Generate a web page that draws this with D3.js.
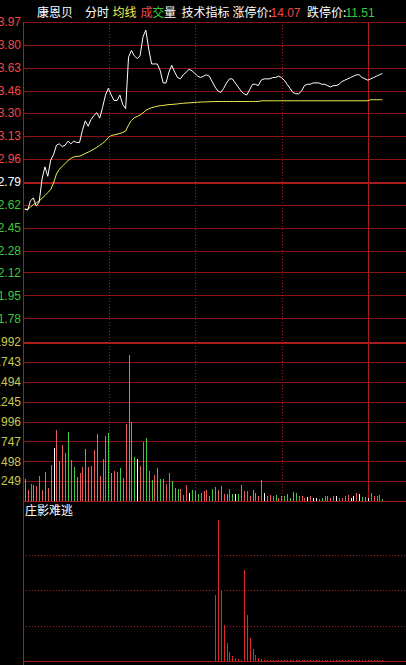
<!DOCTYPE html>
<html><head><meta charset="utf-8">
<script src="https://cdn.jsdelivr.net/npm/d3@7/dist/d3.min.js"></script>
<style>html,body{margin:0;padding:0;background:#000;overflow:hidden}svg{display:block}</style>
</head><body><svg id="c" width="406" height="665"></svg>
<script>
// ---------- DATA ----------
const stockName = "康恩贝";
const limitUp = "14.07";
const limitDown = "11.51";
const prevClose = 12.79;
const priceTicks = [13.97, 13.80, 13.63, 13.46, 13.30, 13.13, 12.96, 12.79, 12.62, 12.45, 12.28, 12.12, 11.95, 11.78];
const priceTickLabels = ["13.97","13.80","13.63","13.46","13.30","13.13","12.96","12.79","12.62","12.45","12.28","12.12","11.95","11.78"];
const volTicks = [1992, 1743, 1494, 1245, 996, 747, 498, 249];
const indicatorGrid = [1, 2, 3];
const timeMarks = [30, 60, 90]; // dotted (minutes from 9:30)
const sessionBreak = [120];     // solid

const price = [12.59,12.58,12.65,12.67,12.61,12.64,12.81,12.90,12.83,12.95,
12.99,13.06,13.07,13.05,13.06,13.09,13.07,13.09,13.08,13.08,
13.17,13.24,13.20,13.25,13.28,13.30,13.26,13.34,13.43,13.48,
13.43,13.39,13.39,13.43,13.36,13.33,13.71,13.76,13.72,13.70,
13.72,13.86,13.91,13.77,13.66,13.66,13.66,13.61,13.52,13.52,
13.60,13.65,13.60,13.56,13.55,13.58,13.60,13.62,13.61,13.59,
13.57,13.56,13.57,13.58,13.57,13.53,13.49,13.46,13.45,13.48,
13.52,13.55,13.55,13.52,13.49,13.46,13.44,13.43,13.47,13.51,
13.51,13.50,13.54,13.55,13.55,13.55,13.56,13.56,13.57,13.56,
13.54,13.51,13.48,13.45,13.44,13.44,13.46,13.50,13.51,13.51,
13.52,13.52,13.52,13.51,13.51,13.50,13.49,13.50,13.50,13.51,
13.53,13.54,13.55,13.56,13.57,13.58,13.58,13.56,13.55,13.54,
13.55,13.56,13.57,13.58,13.59];

const avgPrice = [12.585,12.587,12.603,12.622,12.634,12.648,12.667,12.688,12.710,12.733,
12.781,12.847,12.882,12.904,12.925,12.946,12.963,12.973,12.977,12.979,
12.988,12.999,13.008,13.020,13.031,13.044,13.059,13.073,13.091,13.117,
13.132,13.136,13.141,13.147,13.154,13.165,13.209,13.243,13.263,13.272,
13.283,13.298,13.317,13.328,13.337,13.343,13.348,13.352,13.354,13.357,
13.360,13.361,13.363,13.365,13.368,13.370,13.371,13.373,13.374,13.376,
13.377,13.379,13.379,13.380,13.381,13.382,13.382,13.383,13.383,13.383,
13.383,13.383,13.383,13.383,13.383,13.383,13.383,13.383,13.383,13.383,
13.383,13.383,13.388,13.388,13.388,13.388,13.388,13.388,13.388,13.388,
13.388,13.388,13.388,13.388,13.388,13.388,13.388,13.388,13.388,13.388,
13.388,13.388,13.388,13.388,13.388,13.388,13.388,13.388,13.388,13.388,
13.388,13.388,13.388,13.388,13.388,13.388,13.388,13.388,13.388,13.388,
13.396,13.396,13.396,13.396,13.396];

const volume = [270,132,207,195,182,312,132,362,161,446,
664,887,497,698,601,862,509,425,300,346,
425,648,425,434,635,845,312,522,811,849,
350,371,358,409,287,962,1830,991,551,522,
434,736,790,371,258,321,413,270,270,216,
354,245,161,153,145,78,199,98,132,120,
90,103,120,132,61,153,174,132,186,82,
82,145,82,82,82,195,120,120,57,132,
103,61,258,103,61,69,57,69,40,57,
57,82,36,116,95,61,57,40,49,65,
40,40,28,40,57,57,40,57,61,40,
40,57,69,40,61,103,82,49,49,40,
98,57,57,74,20];

const volDir = "grrgrrrgrrwrgrrgrggrrgrrrgrrrggrrggrgggwrrgggrgggrrgggrrrwgggrrrgggrrrgrgwggrrrggrrwgrrgrggggggrrrwrwwrgggrrwrrrrwwrwggwrrrrg";

const zyStart = 66;
const zhuangying = [1.87,4.0,2.0,1.02,0.51,0.25,0.14,0.08,0.05,0.03,
2.58,1.30,0.66,0.34,0.17,0.08,0.05,0.03,0.03,0.03,
0.03,0.03,0.03,0.03,0.03,0.03,0.03,0.03,0.03,0.03,
0.03,0.03,0.03,0.03,0.03,0.03,0.03,0.03,0.03,0.03,
0.03,0.03,0.03,0.03,0.03,0.03,0.03,0.03,0.03,0.03,
0.03,0.03,0.03,0.03,0.03,0.03,0.03,0.03,0.03];

// ---------- LAYOUT ----------
const W = 406, left = 23;
const svg = d3.select("#c");
svg.append("rect").attr("width", W).attr("height", 665).attr("fill", "#000");

const x = d3.scaleLinear().domain([0, 240]).range([23.3, 715.3]);
const slot = i => x(i + 0.5);
const yP = d3.scaleLinear().domain([11.61, 13.97]).range([341.5, 22]);
const yV = d3.scaleLinear().domain([0, 1992]).range([501, 342]);
const yZ = d3.scaleLinear().domain([0, 4.5]).range([661, 502]);

const gridCol = "#8a1414";
const gridBold = "#a81c1c";
const red = "#f04848", green = "#3cc83c", white = "#ffffff";
const numFont = "'Liberation Sans', Arial, sans-serif";
const cjkFont = "'Noto Sans CJK SC', sans-serif";

const grid = svg.append("g").attr("shape-rendering", "crispEdges");

// price horizontal grid
grid.selectAll(".pg").data(priceTicks).enter().append("line")
  .attr("x1", left).attr("x2", W)
  .attr("y1", d => Math.round(yP(d)) + 0.5).attr("y2", d => Math.round(yP(d)) + 0.5)
  .attr("stroke", d => d === prevClose ? gridBold : gridCol)
  .attr("stroke-width", d => d === prevClose ? 2 : 1);
// volume grid
grid.selectAll(".vg").data(volTicks).enter().append("line")
  .attr("x1", left).attr("x2", W)
  .attr("y1", d => Math.round(yV(d)) + 0.5).attr("y2", d => Math.round(yV(d)) + 0.5)
  .attr("stroke", d => d === volTicks[0] ? gridBold : gridCol)
  .attr("stroke-width", d => d === volTicks[0] ? 2 : 1);
// volume bottom / indicator top
grid.append("line").attr("x1", left).attr("x2", W)
  .attr("y1", Math.round(yV(0)) + 0.5).attr("y2", Math.round(yV(0)) + 0.5)
  .attr("stroke", gridBold).attr("stroke-width", 1.5);
// indicator dotted grid
grid.selectAll(".zg").data(indicatorGrid).enter().append("line")
  .attr("x1", left).attr("x2", W)
  .attr("y1", d => Math.round(yZ(d)) + 0.5).attr("y2", d => Math.round(yZ(d)) + 0.5)
  .attr("stroke", gridBold).attr("stroke-dasharray", "1,2");
grid.append("line").attr("x1", left).attr("x2", W)
  .attr("y1", Math.round(yZ(0)) + 0.5).attr("y2", Math.round(yZ(0)) + 0.5)
  .attr("stroke", gridBold);
// vertical lines
grid.append("line").attr("x1", left + 0.5).attr("x2", left + 0.5)
  .attr("y1", yP(13.97)).attr("y2", 665).attr("stroke", gridBold);
grid.selectAll(".tv").data(timeMarks).enter().append("line")
  .attr("x1", d => Math.round(x(d)) - 0.5).attr("x2", d => Math.round(x(d)) - 0.5)
  .attr("y1", yP(13.97)).attr("y2", yV(0))
  .attr("stroke", gridBold).attr("stroke-dasharray", "1,2");
grid.selectAll(".sv").data(sessionBreak).enter().append("line")
  .attr("x1", d => Math.round(x(d)) - 0.5).attr("x2", d => Math.round(x(d)) - 0.5)
  .attr("y1", yP(13.97)).attr("y2", yV(0))
  .attr("stroke", gridBold);

// price labels
svg.selectAll(".pl").data(priceTicks).enter().append("text")
  .attr("x", 21).attr("y", d => yP(d)).attr("dy", "0.36em")
  .attr("text-anchor", "end").attr("font-family", numFont).attr("font-size", 12)
  .attr("fill", d => d > prevClose ? red : (d < prevClose ? green : white))
  .text((d, i) => priceTickLabels[i]);
// volume labels
svg.selectAll(".vl").data(volTicks).enter().append("text")
  .attr("x", 21).attr("y", d => yV(d)).attr("dy", "0.36em")
  .attr("text-anchor", "end").attr("font-family", numFont).attr("font-size", 12)
  .attr("fill", "#c8c850")
  .text(d => d);

// volume bars
const dirCol = {r: "#e85c5c", g: "#40c840", w: "#ffffff"};
svg.append("g").attr("shape-rendering", "crispEdges")
  .selectAll("rect").data(volume).enter().append("rect")
  .attr("x", (d, i) => Math.round(slot(i)))
  .attr("width", 1)
  .attr("y", d => yV(d))
  .attr("height", d => yV(0) - yV(d))
  .attr("fill", (d, i) => dirCol[volDir[i]]);

// indicator bars
svg.append("g").attr("shape-rendering", "crispEdges")
  .selectAll("rect").data(zhuangying).enter().append("rect")
  .attr("x", (d, i) => Math.round(slot(i + zyStart)))
  .attr("width", 1)
  .attr("y", d => yZ(d))
  .attr("height", d => Math.max(1, yZ(0) - yZ(d)))
  .attr("fill", "#e02828");

// average line & price line
const line = d3.line().x((d, i) => slot(i));
svg.append("path").datum(avgPrice)
  .attr("d", line.y(d => yP(d)))
  .attr("fill", "none").attr("stroke", "#f0f050").attr("stroke-width", 1);
svg.append("path").datum(price)
  .attr("d", line.y(d => yP(d)))
  .attr("fill", "none").attr("stroke", "#ffffff").attr("stroke-width", 1);

// header
const hdr = [
  {t: stockName, x: 37, c: white},
  {t: "分时", x: 85, c: white},
  {t: "均线", x: 112.5, c: "#f0f050"},
  {t: "成", x: 140.5, c: red},
  {t: "交", x: 152.3, c: green},
  {t: "量", x: 164.1, c: white},
  {t: "技术指标", x: 181.5, c: white},
  {t: "涨停价:", x: 232.5, c: white},
  {t: "跌停价:", x: 307, c: white}
];
svg.selectAll(".hd").data(hdr).enter().append("text")
  .attr("x", d => d.x).attr("y", 17)
  .attr("font-family", cjkFont).attr("font-size", 12)
  .attr("fill", d => d.c).text(d => d.t);
svg.append("text").attr("x", 270.5).attr("y", 17)
  .attr("font-family", numFont).attr("font-size", 12).attr("fill", red).text(limitUp);
svg.append("text").attr("x", 345.5).attr("y", 17)
  .attr("font-family", numFont).attr("font-size", 12).attr("fill", green).text(limitDown);

// indicator title
svg.append("text").attr("x", 25).attr("y", 515)
  .attr("font-family", cjkFont).attr("font-size", 12)
  .attr("fill", white).text("庄影难逃");
</script>
</body></html>
